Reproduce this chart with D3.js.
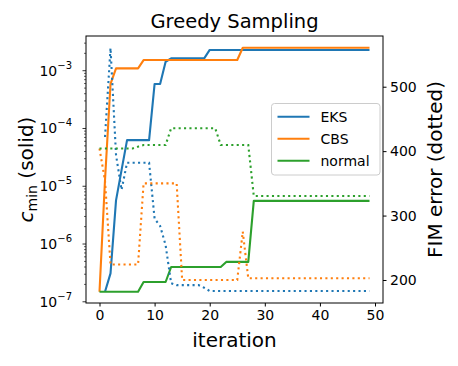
<!DOCTYPE html>
<html>
<head>
<meta charset="utf-8">
<script src="https://cdn.jsdelivr.net/npm/d3@7"></script>
<style>
  body { margin: 0; background: #fff; }
  svg { font-family: "DejaVu Sans", sans-serif; }
</style>
</head>
<body>
<svg id="main" width="458" height="366"></svg>
<script>
"use strict";

//data
const iterations = d3.range(50);
const seriesNames = ["EKS", "CBS", "normal"];
const xTicks = [0, 10, 20, 30, 40, 50];
const leftTicks = [-7, -6, -5, -4, -3];
const rightTicks = [200, 300, 400, 500];

// c_min (solid, left log axis); EKS has no value at iteration 0
const eksMin = [null, 1.49e-7, 3.1e-7, 5.7e-6, 1.9e-5,
  6.3e-5, 6.3e-5, 6.3e-5, 6.3e-5, 6.3e-5,
  5.9e-4, 5.9e-4, 1.43e-3,
  1.64e-3, 1.64e-3, 1.64e-3, 1.64e-3, 1.64e-3, 1.64e-3, 1.64e-3,
  2.29e-3, 2.29e-3, 2.29e-3, 2.29e-3, 2.29e-3, 2.29e-3, 2.29e-3, 2.29e-3, 2.29e-3, 2.29e-3,
  2.29e-3, 2.29e-3, 2.29e-3, 2.29e-3, 2.29e-3, 2.29e-3, 2.29e-3, 2.29e-3, 2.29e-3, 2.29e-3,
  2.29e-3, 2.29e-3, 2.29e-3, 2.29e-3, 2.29e-3, 2.29e-3, 2.29e-3, 2.29e-3, 2.29e-3, 2.29e-3];
const cbsMin = [1.49e-7, 1.28e-5, 5.9e-4,
  1.1e-3, 1.1e-3, 1.1e-3, 1.1e-3, 1.1e-3,
  1.53e-3, 1.53e-3, 1.53e-3, 1.53e-3, 1.53e-3, 1.53e-3, 1.53e-3, 1.53e-3, 1.53e-3,
  1.53e-3, 1.53e-3, 1.53e-3, 1.53e-3, 1.53e-3, 1.53e-3, 1.53e-3, 1.53e-3, 1.53e-3,
  2.5e-3, 2.5e-3, 2.5e-3, 2.5e-3, 2.5e-3, 2.5e-3, 2.5e-3, 2.5e-3, 2.5e-3, 2.5e-3,
  2.5e-3, 2.5e-3, 2.5e-3, 2.5e-3, 2.5e-3, 2.5e-3, 2.5e-3, 2.5e-3, 2.5e-3, 2.5e-3,
  2.5e-3, 2.5e-3, 2.5e-3, 2.5e-3];
const normalMin = [1.49e-7, 1.49e-7, 1.49e-7, 1.49e-7, 1.49e-7, 1.49e-7, 1.49e-7, 1.49e-7,
  2.2e-7, 2.2e-7, 2.2e-7, 2.2e-7, 2.2e-7,
  4.0e-7, 4.0e-7, 4.0e-7, 4.0e-7, 4.0e-7, 4.0e-7, 4.0e-7, 4.0e-7, 4.0e-7, 4.0e-7,
  4.9e-7, 4.9e-7, 4.9e-7, 4.9e-7, 4.9e-7,
  5.58e-6, 5.58e-6, 5.58e-6, 5.58e-6, 5.58e-6, 5.58e-6, 5.58e-6, 5.58e-6, 5.58e-6, 5.58e-6,
  5.58e-6, 5.58e-6, 5.58e-6, 5.58e-6, 5.58e-6, 5.58e-6, 5.58e-6, 5.58e-6, 5.58e-6, 5.58e-6,
  5.58e-6, 5.58e-6];

// FIM error (dotted, right axis)
const eksFim = [null, 422, 560, 394, 340,
  382, 382, 382, 382, 382,
  295, 284, 254, 195,
  192, 192, 192, 192, 192, 188,
  183, 183, 183, 183, 183, 183, 183, 183, 183, 183,
  183, 183, 183, 183, 183, 183, 183, 183, 183, 183,
  183, 183, 183, 183, 183, 183, 183, 183, 183, 183];
const cbsFim = [404, 354,
  224, 224, 224, 224, 224, 224,
  350, 350, 350, 350, 350, 350, 350,
  200, 200, 200, 200, 200, 200, 200, 200, 200, 200, 200,
  275,
  202.6, 202.6, 202.6, 202.6, 202.6, 202.6, 202.6, 202.6, 202.6, 202.6,
  202.6, 202.6, 202.6, 202.6, 202.6, 202.6, 202.6, 202.6, 202.6, 202.6,
  202.6, 202.6, 202.6];
const normalFim = [404, 404, 404, 404, 404, 404, 404, 407,
  409.5, 409.5, 409.5, 409.5, 409.5,
  435.5, 435.5, 435.5, 435.5, 435.5, 435.5, 435.5, 435.5, 435.5,
  409.5, 409.5, 409.5, 409.5, 409.5, 409.5,
  330.4, 330.4, 330.4, 330.4, 330.4, 330.4, 330.4, 330.4, 330.4, 330.4,
  330.4, 330.4, 330.4, 330.4, 330.4, 330.4, 330.4, 330.4, 330.4, 330.4,
  330.4, 330.4];

//configurations
const box = { left: 86, right: 383, top: 36, bottom: 303 };
const colors = ["#1f77b4", "#ff7f0e", "#2ca02c"];

const mySvg = d3.select("#main");

const x = d3.scaleLinear().domain([-2.45, 51.45]).range([box.left, box.right]);
const yLeft = d3.scaleLog().domain([Math.pow(10, -7.021), Math.pow(10, -2.399)]).range([box.bottom, box.top]);
const yRight = d3.scaleLinear().domain([164.3, 578.7]).range([box.bottom, box.top]);

const mins = [eksMin, cbsMin, normalMin];
const fims = [eksFim, cbsFim, normalFim];

const lineFor = (yScale) => d3.line()
  .defined((d) => d != null)
  .x((d, i) => x(iterations[i]))
  .y((d) => yScale(d));

// solid lines (left axis)
const plot = mySvg.append("g");
mins.forEach((s, k) => {
  plot.append("path")
    .attr("d", lineFor(yLeft)(s))
    .attr("fill", "none")
    .attr("stroke", colors[k])
    .attr("stroke-width", 2.1)
    .attr("stroke-linejoin", "round");
});

// dotted lines (right axis, twin axes drawn on top)
fims.forEach((s, k) => {
  plot.append("path")
    .attr("d", lineFor(yRight)(s))
    .attr("fill", "none")
    .attr("stroke", colors[k])
    .attr("stroke-width", 2.1)
    .attr("stroke-dasharray", "2.1,3.3");
});

// frame
mySvg.append("rect")
  .attr("x", box.left).attr("y", box.top)
  .attr("width", box.right - box.left).attr("height", box.bottom - box.top)
  .attr("fill", "none").attr("stroke", "#000").attr("stroke-width", 1);

// x axis
const xAxis = mySvg.append("g")
  .attr("transform", `translate(0,${box.bottom})`)
  .call(d3.axisBottom(x).tickValues(xTicks).tickSize(3.5).tickPadding(3.5));
xAxis.select(".domain").remove();
xAxis.selectAll("text").attr("font-size", 14).attr("fill", "#000")
  .attr("font-family", "DejaVu Sans");

// left log axis, with minor ticks
const minorTicks = [];
for (let e = -8; e <= -2; e++) {
  for (let m = 2; m <= 9; m++) {
    const v = m * Math.pow(10, e);
    if (v >= yLeft.domain()[0] && v <= yLeft.domain()[1]) minorTicks.push(v);
  }
}
const leftAxis = mySvg.append("g");
leftAxis.selectAll(".minor")
  .data(minorTicks)
  .enter().append("line")
  .attr("x1", box.left - 2).attr("x2", box.left)
  .attr("y1", (d) => yLeft(d)).attr("y2", (d) => yLeft(d))
  .attr("stroke", "#000").attr("stroke-width", 0.6);
const major = leftAxis.selectAll(".major")
  .data(leftTicks)
  .enter().append("g")
  .attr("transform", (d) => `translate(0,${yLeft(Math.pow(10, d))})`);
major.append("line")
  .attr("x1", box.left - 3.5).attr("x2", box.left)
  .attr("stroke", "#000").attr("stroke-width", 0.8);
const lbl = major.append("text")
  .attr("x", 72).attr("y", 5)
  .attr("text-anchor", "end")
  .attr("font-size", 14);
lbl.append("tspan").text("10");
lbl.append("tspan").attr("dy", -7).attr("font-size", 10).text((d) => "\u2212" + Math.abs(d));

// right axis
const rightAxis = mySvg.append("g")
  .attr("transform", `translate(${box.right},0)`)
  .call(d3.axisRight(yRight).tickValues(rightTicks).tickSize(3.5).tickPadding(3.5));
rightAxis.select(".domain").remove();
rightAxis.selectAll("text").attr("font-size", 14).attr("fill", "#000")
  .attr("font-family", "DejaVu Sans");

// title and axis labels
mySvg.append("text")
  .attr("x", (box.left + box.right) / 2).attr("y", 28)
  .attr("text-anchor", "middle").attr("font-size", 19.5)
  .text("Greedy Sampling");
mySvg.append("text")
  .attr("x", (box.left + box.right) / 2).attr("y", 346.5)
  .attr("text-anchor", "middle").attr("font-size", 20)
  .text("iteration");
const yl = mySvg.append("text")
  .attr("transform", `translate(33,${(box.top + box.bottom) / 2}) rotate(-90)`)
  .attr("text-anchor", "middle").attr("font-size", 20);
yl.append("tspan").attr("font-style", "italic").text("c");
yl.append("tspan").attr("dy", 4).attr("font-size", 14).text("min");
yl.append("tspan").attr("dy", -4).text(" (solid)");
mySvg.append("text")
  .attr("transform", `translate(442,${(box.top + box.bottom) / 2}) rotate(-90)`)
  .attr("text-anchor", "middle").attr("font-size", 20)
  .text("FIM error (dotted)");

// legend
const legend = mySvg.append("g");
legend.append("rect")
  .attr("x", 271.5).attr("y", 103.5).attr("width", 108.5).attr("height", 71.5)
  .attr("rx", 3)
  .attr("fill", "#fff").attr("fill-opacity", 0.8)
  .attr("stroke", "#cccccc").attr("stroke-width", 1);
const item = legend.selectAll(".item")
  .data(seriesNames)
  .enter().append("g")
  .attr("transform", (d, i) => `translate(0,${116.7 + i * 22})`);
item.append("line")
  .attr("x1", 277.5).attr("x2", 309.5)
  .attr("stroke", (d, i) => colors[i]).attr("stroke-width", 2.1);
item.append("text")
  .attr("x", 320.5).attr("y", 5)
  .attr("font-size", 14)
  .text((d) => d);
</script>
</body>
</html>
